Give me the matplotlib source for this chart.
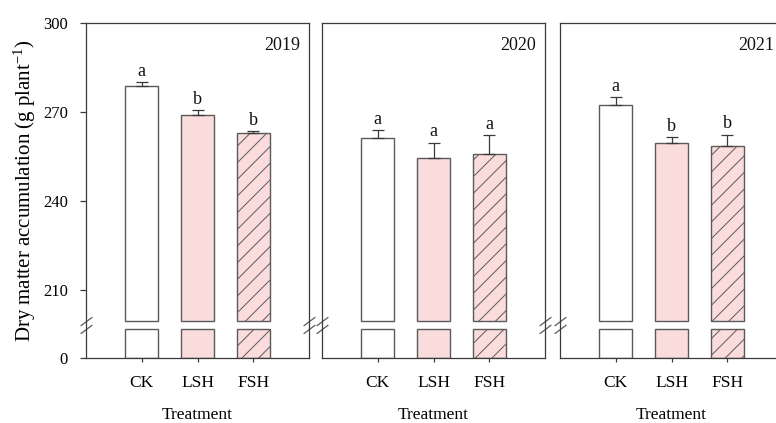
import numpy as np
import matplotlib.pyplot as plt
from matplotlib.path import Path
from matplotlib.transforms import blended_transform_factory

plt.rcParams['font.family'] = 'Liberation Serif'
plt.rcParams['mathtext.fontset'] = 'custom'
plt.rcParams['mathtext.rm'] = 'Liberation Serif'
plt.rcParams['mathtext.it'] = 'Liberation Serif:italic'
plt.rcParams['hatch.linewidth'] = 0.7

years = ['2019', '2020', '2021']
treatments = ['CK', 'LSH', 'FSH']

dm_2019 = [278.6, 269.0, 262.8]
err_2019 = [1.6, 1.6, 0.8]
sig_2019 = ['a', 'b', 'b']

dm_2020 = [261.2, 254.6, 255.8]
err_2020 = [2.7, 5.1, 6.3]
sig_2020 = ['a', 'a', 'a']

dm_2021 = [272.4, 259.6, 258.6]
err_2021 = [2.7, 1.9, 3.8]
sig_2021 = ['a', 'b', 'b']

means = [dm_2019, dm_2020, dm_2021]
errors = [err_2019, err_2020, err_2021]
letters = [sig_2019, sig_2020, sig_2021]

# broken y axis: 0-200 squeezed into a short stub, 200-300 linear
BREAK = 200.0
LOW = 12.9
STUB_TOP = 150.0
UPPER_BOTTOM = 194.0


def fwd(v):
    v = np.asarray(v, dtype=float)
    return np.where(v <= BREAK, v * LOW / BREAK, LOW + v - BREAK)


def inv(u):
    u = np.asarray(u, dtype=float)
    return np.where(u <= LOW, u * BREAK / LOW, u - LOW + BREAK)


fills = ['white', '#FADCDD', '#FADCDD']
hatches = ['', '', '//']
edge = '#5a5a5a'
dark = '#3a3a3a'

# two short parallel slashes for the axis break
brk = Path([(-6, -0.5), (6, 8.5), (-6, -8.5), (6, 0.5)],
           [Path.MOVETO, Path.LINETO, Path.MOVETO, Path.LINETO])

fig = plt.figure(figsize=(7.76, 4.23), dpi=100)
W, H = 776, 423
lefts = [86, 322, 560]
x = np.array([1, 2, 3])

for i, year in enumerate(years):
    ax = fig.add_axes([lefts[i] / W, 1 - 358 / H, 223 / W, 335 / H])
    ax.set_yscale('function', functions=(fwd, inv))
    ax.set_xlim(0, 4)
    ax.set_ylim(0, 300)

    vals = np.array(means[i])
    lower = ax.bar(x, [STUB_TOP] * 3, width=0.6, color=fills,
                   edgecolor=edge, linewidth=1.0)
    upper = ax.bar(x, vals - UPPER_BOTTOM, bottom=UPPER_BOTTOM, width=0.6,
                   color=fills, edgecolor=edge, linewidth=1.0)
    for j in range(3):
        lower[j].set_hatch(hatches[j])
        upper[j].set_hatch(hatches[j])

    ax.errorbar(x, vals, yerr=[np.zeros(3), errors[i]], fmt='none',
                ecolor=dark, elinewidth=0.9, capsize=4.3, capthick=0.9)

    for j in range(3):
        ax.annotate(letters[i][j], (x[j], vals[j] + errors[i][j]),
                    xytext=(0, 4.5), textcoords='offset points',
                    ha='center', va='baseline', fontsize=13, color='#111111')

    ax.text(0.96, 0.934, year, transform=ax.transAxes, ha='right',
            va='center', fontsize=13, color='#111111')

    for sp in ax.spines.values():
        sp.set_color(dark)
        sp.set_linewidth(0.9)

    ax.set_xticks(x)
    ax.set_xticklabels(treatments)
    ax.tick_params(axis='x', direction='out', length=3, width=0.9,
                   color=dark, pad=9, labelsize=12.5)

    if i == 0:
        ax.set_yticks([0, 210, 240, 270, 300])
        ax.tick_params(axis='y', direction='out', length=4, width=0.9,
                       color=dark, pad=9, labelsize=12)
        ax.set_ylabel(r'Dry matter accumulation (g plant$^{-1}$)', fontsize=15)
        ax.yaxis.set_label_coords(-0.275, 0.5)
        ax.yaxis.label.set_va('center')
    else:
        ax.set_yticks([])
        ax.tick_params(axis='y', left=False, labelleft=False)
    ax.yaxis.set_minor_locator(plt.NullLocator())

    ax.set_xlabel('Treatment', fontsize=12.5)
    ax.xaxis.set_label_coords(0.5, -0.17)
    ax.xaxis.label.set_va('center')

    tr = blended_transform_factory(ax.transAxes, ax.transData)
    mid = (STUB_TOP + UPPER_BOTTOM) / 2
    ax.plot([0, 1], [mid, mid], transform=tr, ls='none', marker=brk,
            ms=12, mfc='none', mec=edge, mew=0.9, clip_on=False)

fig.savefig('out.png', dpi=100)
